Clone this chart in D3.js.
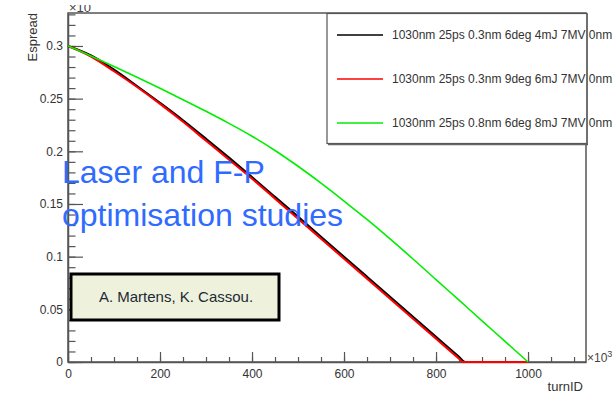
<!DOCTYPE html>
<html>
<head>
    <title>Espread vs turnID</title>
    <script src="https://d3js.org/d3.v7.min.js"></script>
    <style>
        body { margin: 0; background: #fff; }
        text { font-family: "Liberation Sans", Arial, Helvetica, sans-serif; }
    </style>
</head>
<body>
    <svg width="616" height="397"></svg>
    <script>
        // Values
        var blackTurns  = [0, 50, 100, 150, 200, 250, 300, 350, 400, 450, 500, 550, 600, 650, 700, 750, 800, 850, 863, 1000];
        var blackValues = [0.300, 0.291, 0.2775, 0.262, 0.246, 0.2295, 0.212, 0.194, 0.1755, 0.1568, 0.138, 0.119, 0.100, 0.081, 0.062, 0.043, 0.024, 0.005, 0, 0];

        var redTurns  = [0, 50, 100, 150, 200, 250, 300, 350, 400, 450, 500, 550, 600, 650, 700, 750, 800, 850, 858, 1000];
        var redValues = [0.300, 0.290, 0.276, 0.261, 0.245, 0.228, 0.210, 0.192, 0.174, 0.155, 0.136, 0.117, 0.098, 0.079, 0.060, 0.041, 0.022, 0.003, 0, 0];

        var greenTurns  = [0, 50, 100, 150, 200, 250, 300, 350, 400, 450, 500, 550, 600, 650, 700, 750, 800, 850, 900, 950, 1000];
        var greenValues = [0.300, 0.2905, 0.2805, 0.2703, 0.2598, 0.249, 0.238, 0.2265, 0.2143, 0.2008, 0.1858, 0.1698, 0.1528, 0.1353, 0.1168, 0.0978, 0.0782, 0.0587, 0.0391, 0.0196, 0];

        var legendLabels = [
            "1030nm 25ps 0.3nm 6deg 4mJ 7MV 0nm",
            "1030nm 25ps 0.3nm 9deg 6mJ 7MV 0nm",
            "1030nm 25ps 0.8nm 6deg 8mJ 7MV 0nm"
        ];
        var seriesColors = ["#000000", "#ff0000", "#00ee00"];

        var xTickValues = [0, 200, 400, 600, 800, 1000];
        var yTickValues = [0, 0.05, 0.1, 0.15, 0.2, 0.25, 0.3];
        var yTickLabels = ["0", "0.05", "0.1", "0.15", "0.2", "0.25", "0.3"];

        // frame (not "top": that name is taken by window.top)
        var frameL = 68, frameR = 586, frameT = 13, frameB = 362;

        var x = d3.scaleLinear().domain([0, 1126]).range([frameL, frameR]);
        var y = d3.scaleLinear().domain([0, 0.3313]).range([frameB, frameT]);

        var svg = d3.select("svg");
        var axisColor = "#555";

        // minor ticks
        svg.append("g")
            .attr("transform", "translate(0," + frameB + ")")
            .call(d3.axisBottom(x).tickValues(d3.range(0, 1126, 50)).tickSize(-5).tickSizeOuter(0).tickFormat(""))
            .call(function(g) { g.select(".domain").remove(); });
        svg.append("g")
            .attr("transform", "translate(" + frameL + ",0)")
            .call(d3.axisLeft(y).tickValues(d3.range(0, 0.331, 0.01)).tickSize(-7.5).tickSizeOuter(0).tickFormat(""))
            .call(function(g) { g.select(".domain").remove(); });

        // major ticks with labels
        var xAxisG = svg.append("g")
            .attr("transform", "translate(0," + frameB + ")")
            .call(d3.axisBottom(x).tickValues(xTickValues).tickSize(-10).tickSizeOuter(0).tickPadding(7)
                .tickFormat(d3.format("d")));
        var yAxisG = svg.append("g")
            .attr("transform", "translate(" + frameL + ",0)")
            .call(d3.axisLeft(y).tickValues(yTickValues).tickSize(-15).tickSizeOuter(0).tickPadding(5)
                .tickFormat(function(d, i) { return yTickLabels[i]; }));

        svg.selectAll(".tick line").attr("stroke", axisColor).attr("stroke-width", 1.2);
        svg.selectAll(".tick text").attr("fill", "#333").style("font-size", "12px");

        // frame lines
        svg.append("rect")
            .attr("x", frameL).attr("y", frameT)
            .attr("width", frameR - frameL).attr("height", frameB - frameT)
            .attr("fill", "none").attr("stroke", axisColor).attr("stroke-width", 1.5);
        svg.selectAll(".domain").attr("stroke", axisColor).attr("stroke-width", 1.5);

        // curves
        var line = d3.line()
            .x(function(d) { return x(d[0]); })
            .y(function(d) { return y(d[1]); })
            .curve(d3.curveMonotoneX);

        var series = [
            { turns: blackTurns, values: blackValues, width: 2 },
            { turns: redTurns, values: redValues, width: 2 },
            { turns: greenTurns, values: greenValues, width: 1.6 }
        ];
        series.forEach(function(s, i) {
            svg.append("path")
                .datum(d3.zip(s.turns, s.values))
                .attr("d", line)
                .attr("fill", "none")
                .attr("stroke", seriesColors[i])
                .attr("stroke-width", s.width)
                .attr("stroke-linejoin", "round");
        });

        // axis titles
        svg.append("text")
            .attr("transform", "translate(37," + frameT + ") rotate(-90)")
            .attr("text-anchor", "end")
            .style("font-size", "13px")
            .attr("fill", "#333")
            .text("Espread");
        svg.append("text")
            .attr("x", 583).attr("y", 391)
            .attr("text-anchor", "end")
            .style("font-size", "13px")
            .attr("fill", "#333")
            .text("turnID");

        // exponent labels
        svg.append("defs").append("clipPath").attr("id", "topcut")
            .append("rect").attr("x", 0).attr("y", 5).attr("width", 616).attr("height", 400);
        svg.append("text")
            .attr("x", 69).attr("y", 12)
            .attr("clip-path", "url(#topcut)")
            .style("font-size", "13px")
            .attr("fill", "#444")
            .text("\u00d710");
        var exp = svg.append("text")
            .attr("x", 587).attr("y", 362)
            .style("font-size", "12px")
            .attr("fill", "#444");
        exp.append("tspan").text("\u00d710");
        exp.append("tspan").attr("dy", -5).style("font-size", "9px").text("3");

        // legend
        var lg = svg.append("g");
        lg.append("rect")
            .attr("x", 327).attr("y", 13.5)
            .attr("width", 260).attr("height", 130)
            .attr("fill", "#fff").attr("stroke", "#555").attr("stroke-width", 1.2);
        lg.append("line")
            .attr("x1", 328).attr("x2", 588).attr("y1", 144.5).attr("y2", 144.5)
            .attr("stroke", "#666").attr("stroke-width", 1.5);
        legendLabels.forEach(function(label, i) {
            var ry = 35 + i * 44;
            lg.append("line")
                .attr("x1", 337).attr("x2", 383).attr("y1", ry).attr("y2", ry)
                .attr("stroke", seriesColors[i]).attr("stroke-width", 1.3);
            lg.append("text")
                .attr("x", 392).attr("y", ry + 4)
                .style("font-size", "12px")
                .attr("fill", "#333")
                .text(label);
        });
        // box edge drawn across the text, as in the plot
        lg.append("line")
            .attr("x1", 587).attr("x2", 587).attr("y1", 13.5).attr("y2", 145)
            .attr("stroke", "#555").attr("stroke-width", 1.2);

        // slide overlay title
        var title = svg.append("text")
            .attr("fill", "#2f6bff")
            .style("font-size", "32px");
        title.append("tspan").attr("x", 62).attr("y", 183).text("Laser and F-P");
        title.append("tspan").attr("x", 62).attr("y", 226).text("optimisation studies");

        // author box
        svg.append("rect")
            .attr("x", 71).attr("y", 274)
            .attr("width", 208).attr("height", 46)
            .attr("fill", "#eef2dc").attr("stroke", "#000").attr("stroke-width", 3);
        svg.append("text")
            .attr("x", 176).attr("y", 302)
            .attr("text-anchor", "middle")
            .style("font-size", "15px")
            .attr("fill", "#1d2a36")
            .text("A. Martens, K. Cassou.");
    </script>
</body>
</html>
